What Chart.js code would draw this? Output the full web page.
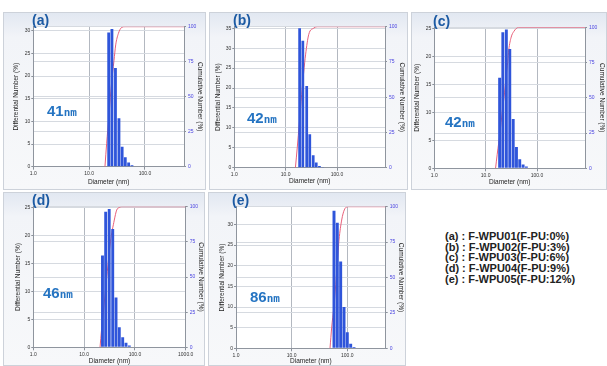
<!DOCTYPE html>
<html lang="en">
<head>
    <meta charset="UTF-8">
    <title>F-WPU particle size distribution</title>
    <script src="https://cdn.jsdelivr.net/npm/chart.js"></script>
    <style>
        body { margin: 0; background: #fff; }
        #figure {
            position: relative;
            width: 607px;
            height: 366px;
            overflow: hidden;
            font-family: "Liberation Sans", Arial, sans-serif;
        }
        .panel {
            position: absolute;
            box-shadow: inset 0 0 0 1px #cdd2da;
            background: linear-gradient(#e1e7f1 0%, #f2f4f8 14%, #f7f8fa 100%);
        }
        .panel canvas { position: absolute; left: 0; top: 0; }
        .tag {
            position: absolute;
            font-weight: bold;
            font-size: 14px;
            line-height: 14px;
            color: #1c5aa3;
        }
        .size {
            position: absolute;
            font-weight: bold;
            color: #2574c2;
            line-height: 16px;
            white-space: nowrap;
        }
        .size .num { font-size: 15px; }
        .size .unit { font-family: "DejaVu Sans Mono", monospace; font-size: 11px; }
        #legend {
            position: absolute;
            left: 445px;
            top: 231px;
            font-weight: bold;
            font-size: 11px;
            line-height: 10.65px;
            color: #222;
            white-space: nowrap;
        }
    </style>
</head>
<body>
<div id="figure">
    <div class="panel" style="left:3px;top:12px;width:203px;height:178px"><canvas id="chartA" width="203" height="178"></canvas></div>
    <div class="panel" style="left:209px;top:12px;width:199px;height:178px"><canvas id="chartB" width="199" height="178"></canvas></div>
    <div class="panel" style="left:411px;top:12px;width:196px;height:178px"><canvas id="chartC" width="196" height="178"></canvas></div>
    <div class="panel" style="left:3px;top:192px;width:202px;height:174px"><canvas id="chartD" width="202" height="174"></canvas></div>
    <div class="panel" style="left:208px;top:192px;width:198px;height:174px"><canvas id="chartE" width="198" height="174"></canvas></div>

    <div class="tag" style="left:32px;top:13px">(a)</div>
    <div class="tag" style="left:233px;top:13px">(b)</div>
    <div class="tag" style="left:433px;top:14px">(c)</div>
    <div class="tag" style="left:32px;top:193px">(d)</div>
    <div class="tag" style="left:232px;top:193px">(e)</div>

    <div class="size" style="left:47px;top:103px"><span class="num">41</span><span class="unit">nm</span></div>
    <div class="size" style="left:247px;top:110px"><span class="num">42</span><span class="unit">nm</span></div>
    <div class="size" style="left:445px;top:114px"><span class="num">42</span><span class="unit">nm</span></div>
    <div class="size" style="left:43px;top:285px"><span class="num">46</span><span class="unit">nm</span></div>
    <div class="size" style="left:250px;top:289px"><span class="num">86</span><span class="unit">nm</span></div>

    <div id="legend">
        <div>(a) : F-WPU01(F-PU:0%)</div>
        <div>(b) : F-WPU02(F-PU:3%)</div>
        <div>(c) : F-WPU03(F-PU:6%)</div>
        <div>(d) : F-WPU04(F-PU:9%)</div>
        <div>(e) : F-WPU05(F-PU:12%)</div>
    </div>
</div>

<script>
    // bin centres (nm) and differential number (%)
    const diamA = [22.4, 25.6, 29.6, 34.2, 39.0, 44.4, 51.0, 58.5, 67.0];
    const diffA = [29.6, 30.4, 21.8, 10.7, 4.4, 2.1, 0.9, 0.3, 0.1];
    const diamB = [18.7, 21.6, 25.7, 29.5, 34.4, 39.4, 45.5, 52.7];
    const diffB = [35.0, 31.9, 20.5, 8.4, 3.1, 1.3, 0.4, 0.15];
    const diamC = [18.7, 21.6, 25.3, 29.5, 34.4, 39.8, 46.1, 53.6, 62.1, 71.9];
    const diffC = [16.2, 24.3, 24.8, 21.3, 8.8, 3.8, 1.6, 0.7, 0.3, 0.1];
    const diamD = [23.0, 26.6, 31.2, 36.6, 42.5, 49.3, 57.5, 66.8, 77.6, 90.5];
    const diffD = [16.4, 24.2, 24.7, 21.1, 8.9, 3.6, 1.8, 0.8, 0.3, 0.1];
    const diamE = [57.7, 66.1, 76.0, 87.3, 100.0, 115.0, 132.0];
    const diffE = [33.3, 30.4, 21.0, 10.0, 3.9, 1.1, 0.3];

    // cumulative number curve (red line), read point by point
    const cumDiamA = [19.2, 20.6, 22.5, 24.5, 26.3, 27.9, 29.9, 33.3, 38.3, 43.9, 500];
    const cumA = [0, 16.7, 35, 54, 67, 76, 87, 95, 99.5, 100, 100];
    const cumDiamB = [15.5, 16.8, 18.5, 20.5, 22.5, 24.4, 28.2, 35.3, 40.8, 860];
    const cumB = [0, 14, 32, 52, 68, 80, 94.6, 99, 100, 100];
    const cumDiamC = [15.6, 16.8, 19.0, 21.0, 23.3, 25.0, 27.0, 28.2, 31.4, 35.3, 44.0, 860];
    const cumC = [0, 10, 25, 40, 53.5, 65, 76, 84, 93, 97, 100, 100];
    const cumDiamD = [20.6, 22.0, 24.6, 28.6, 33.0, 39.3, 43.8, 50.0, 55.0, 1000];
    const cumD = [0, 12, 29.4, 53.8, 75, 90.5, 97.6, 99.5, 100, 100];
    const cumDiamE = [48.9, 52.5, 57.0, 62.0, 66.0, 71.0, 79.3, 88.3, 101.6, 490];
    const cumE = [0, 15, 28, 45, 60, 76.5, 90.6, 97.7, 100, 100];

    // axis ticks
    const decadeTicks = [1, 10, 100, 1000];
    const cumTicksStep = 25;
    const diffTicksStep = 5;

    const FONT = '"Liberation Sans", Arial, sans-serif';
    Chart.defaults.font.family = FONT;

    // box = widths of left axis / right axis / x axis and top padding (px)
    // titles = distance of each axis title centre from the canvas edge
    const panels = [
        { id: 'chartA', diam: diamA, diff: diffA, cumDiam: cumDiamA, cum: cumA, yMax: 30.9, xMax: 500,
          box: { l: 30.3, r: 22, t: 14.7, b: 23.3 }, titles: { y: 13.7, r: 6, x: 8 } },
        { id: 'chartB', diam: diamB, diff: diffB, cumDiam: cumDiamB, cum: cumB, yMax: 35.4, xMax: 860,
          box: { l: 25.3, r: 23, t: 14.7, b: 22.3 }, titles: { y: 9.3, r: 6.3, x: 8.3 } },
        { id: 'chartC', diam: diamC, diff: diffC, cumDiam: cumDiamC, cum: cumC, yMax: 25.2, xMax: 860,
          box: { l: 23.3, r: 22, t: 15.3, b: 21.7 }, titles: { y: 6.3, r: 5.3, x: 7.3 } },
        { id: 'chartD', diam: diamD, diff: diffD, cumDiam: cumDiamD, cum: cumD, yMax: 25.1, xMax: 1000,
          box: { l: 30.3, r: 19.3, t: 14.7, b: 18.7 }, titles: { y: 15.3, r: 3.9, x: 4.3 } },
        { id: 'chartE', diam: diamE, diff: diffE, cumDiam: cumDiamE, cum: cumE, yMax: 34.3, xMax: 490,
          box: { l: 28, r: 20.3, t: 14.7, b: 17.7 }, titles: { y: 14.7, r: 5, x: 4.3 } }
    ];

    const TITLE_SIZE = 6.5;
    const TICK_SIZE = 5;

    function titlePad(off) {
        return Math.max(0, off - TITLE_SIZE * 0.6);
    }

    // white plot area on the tinted panel
    const plotBg = {
        id: 'plotBg',
        beforeDraw(chart) {
            const { ctx, chartArea: a } = chart;
            ctx.save();
            ctx.fillStyle = '#ffffff';
            ctx.fillRect(a.left, a.top, a.right - a.left, a.bottom - a.top);
            ctx.restore();
        }
    };

    function makeChart(p) {
        const ctx = document.getElementById(p.id).getContext('2d');
        new Chart(ctx, {
            type: 'bar',
            data: {
                datasets: [
                    {
                        type: 'bar',
                        data: p.diam.map((d, i) => ({ x: d, y: p.diff[i] })),
                        yAxisID: 'y',
                        backgroundColor: '#2f55da',
                        borderWidth: 0,
                        barPercentage: 0.9,
                        categoryPercentage: 1,
                        order: 1
                    },
                    {
                        type: 'line',
                        data: p.cumDiam.map((d, i) => ({ x: d, y: p.cum[i] })),
                        yAxisID: 'y1',
                        borderColor: '#e8607a',
                        borderWidth: 1,
                        pointRadius: 0,
                        cubicInterpolationMode: 'monotone',
                        order: 2
                    }
                ]
            },
            options: {
                responsive: false,
                animation: false,
                devicePixelRatio: 1,
                layout: { padding: { top: p.box.t, left: 0, right: 0, bottom: 0 } },
                plugins: {
                    legend: { display: false },
                    tooltip: { enabled: false }
                },
                scales: {
                    x: {
                        type: 'logarithmic',
                        min: 1,
                        max: p.xMax,
                        offset: false,
                        afterBuildTicks: s => {
                            s.ticks = decadeTicks.filter(v => v <= p.xMax).map(v => ({ value: v }));
                        },
                        afterFit: s => { s.height = p.box.b; },
                        grid: { offset: false, color: '#b3b8c0', tickLength: 3, tickColor: '#8a9099' },
                        border: { color: '#8f959e' },
                        ticks: {
                            autoSkip: false,
                            maxRotation: 0,
                            padding: 1,
                            font: { size: TICK_SIZE },
                            color: '#333',
                            callback: v => Number(v).toFixed(1)
                        },
                        title: {
                            display: true,
                            text: 'Diameter (nm)',
                            font: { size: TITLE_SIZE },
                            color: '#222',
                            padding: { top: 0, bottom: titlePad(p.titles.x) }
                        }
                    },
                    y: {
                        position: 'left',
                        min: 0,
                        max: p.yMax,
                        afterFit: s => { s.width = p.box.l; },
                        grid: { color: '#d6dae0', tickLength: 2, tickColor: '#8a9099' },
                        border: { color: '#8f959e' },
                        ticks: {
                            stepSize: diffTicksStep,
                            includeBounds: false,
                            padding: 1,
                            font: { size: TICK_SIZE },
                            color: '#333'
                        },
                        title: {
                            display: true,
                            text: 'Differential Number (%)',
                            font: { size: TITLE_SIZE },
                            color: '#222',
                            padding: { top: titlePad(p.titles.y), bottom: 0 }
                        }
                    },
                    y1: {
                        position: 'right',
                        min: 0,
                        max: 100,
                        afterFit: s => { s.width = p.box.r; },
                        grid: { color: '#d6dae0', tickLength: 2, tickColor: '#8a9099' },
                        border: { color: '#8f959e' },
                        ticks: {
                            stepSize: cumTicksStep,
                            padding: 2,
                            font: { size: TICK_SIZE },
                            color: '#4b45e0'
                        },
                        title: {
                            display: true,
                            text: 'Cumulative Number (%)',
                            font: { size: TITLE_SIZE },
                            color: '#222',
                            padding: { top: titlePad(p.titles.r), bottom: 0 }
                        }
                    }
                }
            },
            plugins: [plotBg]
        });
    }

    panels.forEach(makeChart);
</script>
</body>
</html>
